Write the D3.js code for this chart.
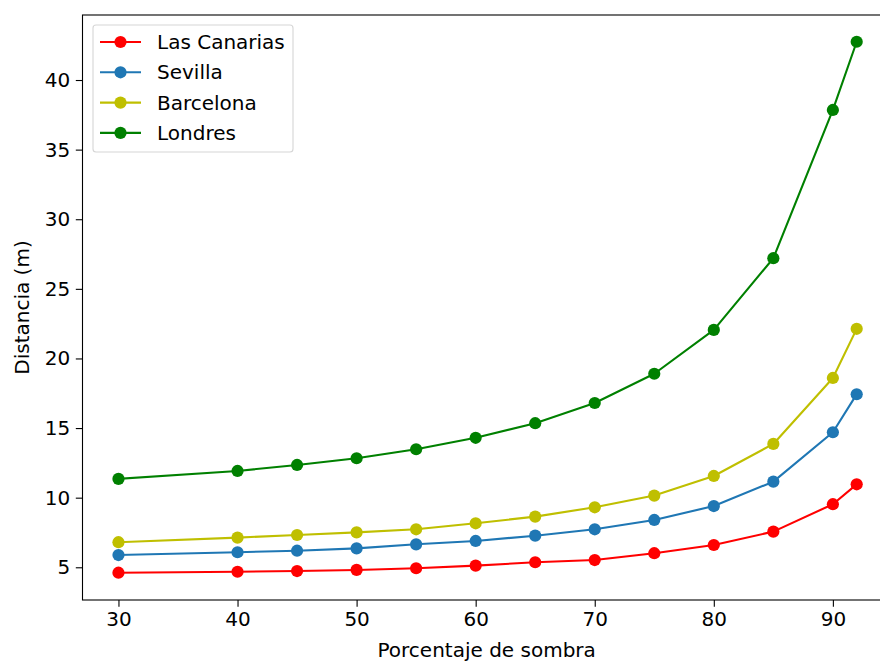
<!DOCTYPE html>
<html>
<head>
<meta charset="utf-8">
<script src="https://cdn.jsdelivr.net/npm/d3@7"></script>
<style>
  html, body { margin: 0; padding: 0; background: #fff; }
  svg { display: block; }
  text { font-family: "DejaVu Sans", sans-serif; fill: #000; }
</style>
</head>
<body>
<svg id="chart" width="880" height="661"></svg>
<script>
const xValues = [30, 40, 45, 50, 55, 60, 65, 70, 75, 80, 85, 90, 92];
const canarias = [4.61, 4.68, 4.73, 4.81, 4.93, 5.12, 5.36, 5.52, 6.01, 6.60, 7.56, 9.53, 10.96];
const sevilla  = [5.88, 6.08, 6.19, 6.36, 6.65, 6.89, 7.27, 7.73, 8.40, 9.40, 11.15, 14.70, 17.43];
const barcelona = [6.80, 7.13, 7.32, 7.51, 7.73, 8.16, 8.64, 9.31, 10.15, 11.56, 13.86, 18.60, 22.13];
const londres  = [11.35, 11.92, 12.35, 12.83, 13.48, 14.30, 15.35, 16.80, 18.90, 22.05, 27.20, 37.85, 42.75];
const seriesNames = ["Las Canarias", "Sevilla", "Barcelona", "Londres"];
const seriesColors = ["#ff0000", "#1f77b4", "#bfbf00", "#008000"];
const xTicks = [30, 40, 50, 60, 70, 80, 90];
const yTicks = [5, 10, 15, 20, 25, 30, 35, 40];
const xLabel = "Porcentaje de sombra";
const yLabel = "Distancia (m)";

const seriesValues = [canarias, sevilla, barcelona, londres];
const series = seriesNames.map((name, i) => ({
  name, color: seriesColors[i],
  points: xValues.map((x, j) => ({ x, y: seriesValues[i][j] }))
}));

const svg = d3.select("#chart");
const plotLeft = 82.5, plotTop = 15, plotBottom = 600;
const pxPerX = 11.907;
const xDomain = [26.98, 95.1];
const x = d3.scaleLinear().domain(xDomain).range([plotLeft, plotLeft + (xDomain[1] - xDomain[0]) * pxPerX]);
const y = d3.scaleLinear().domain([2.65, 44.67]).range([plotBottom, plotTop]);
const plotRight = x(xDomain[1]);

const fontSize = 20;

// axes
const xAxis = d3.axisBottom(x).tickValues(xTicks).tickSize(6.7).tickPadding(5.5).tickFormat(d3.format("d"));
const yAxis = d3.axisLeft(y).tickValues(yTicks).tickSize(6.7).tickPadding(5.5).tickFormat(d3.format("d"));

const gx = svg.append("g").attr("transform", `translate(0,${plotBottom})`).call(xAxis);
const gy = svg.append("g").attr("transform", `translate(${plotLeft},0)`).call(yAxis);
[gx, gy].forEach(g => {
  g.select(".domain").remove();
  g.selectAll(".tick line").attr("stroke", "#000").attr("stroke-width", 1.1);
  g.selectAll(".tick text").attr("font-size", fontSize).attr("font-family", "DejaVu Sans").attr("fill", "#222");
});

// data lines and markers
const line = d3.line().x(d => x(d.x)).y(d => y(d.y));
series.forEach(s => {
  svg.append("path").datum(s.points)
    .attr("d", line).attr("fill", "none")
    .attr("stroke", s.color).attr("stroke-width", 2.1)
    .attr("stroke-linejoin", "round").attr("stroke-linecap", "square");
  svg.append("g").selectAll("circle").data(s.points).join("circle")
    .attr("cx", d => x(d.x)).attr("cy", d => y(d.y))
    .attr("r", 6.1).attr("fill", s.color);
});

// spines
svg.append("rect")
  .attr("x", plotLeft).attr("y", plotTop)
  .attr("width", plotRight - plotLeft).attr("height", plotBottom - plotTop)
  .attr("fill", "none").attr("stroke", "#000").attr("stroke-width", 1.1);

// axis labels
svg.append("text")
  .attr("x", (x(30) + x(90)) / 2 + 11).attr("y", 657)
  .attr("text-anchor", "middle").attr("font-size", fontSize).attr("fill", "#222")
  .text(xLabel);
svg.append("text")
  .attr("transform", `translate(29,${(plotTop + plotBottom) / 2}) rotate(-90)`)
  .attr("text-anchor", "middle").attr("font-size", fontSize).attr("fill", "#222")
  .text(yLabel);

// legend
const lg = svg.append("g");
lg.append("rect")
  .attr("x", 93).attr("y", 25).attr("width", 200).attr("height", 127)
  .attr("rx", 3).attr("fill", "#fff").attr("fill-opacity", 0.8)
  .attr("stroke", "#d6d6d6").attr("stroke-width", 1.1);
series.forEach((s, i) => {
  const cy = 42 + i * 30.3;
  lg.append("line").attr("x1", 100).attr("x2", 141).attr("y1", cy).attr("y2", cy)
    .attr("stroke", s.color).attr("stroke-width", 2.1);
  lg.append("circle").attr("cx", 120.5).attr("cy", cy).attr("r", 6.1).attr("fill", s.color);
  lg.append("text").attr("x", 157).attr("y", cy).attr("dy", "0.35em")
    .attr("font-size", fontSize).attr("fill", "#222").text(s.name);
});
</script>
</body>
</html>
